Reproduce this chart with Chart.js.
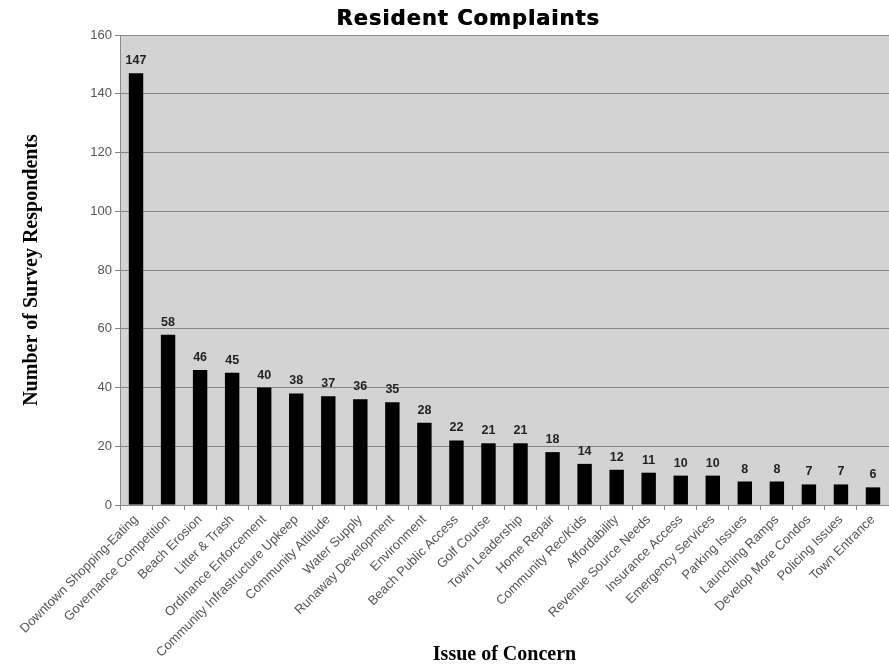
<!DOCTYPE html>
<html>
<head>
<meta charset="utf-8">
<title>Resident Complaints</title>
<script src="https://cdn.jsdelivr.net/npm/chart.js@4"></script>
<style>
  html, body { margin: 0; padding: 0; background: #ffffff; }
  #wrap { width: 889px; height: 669px; position: relative; }
</style>
</head>
<body>
<div id="wrap"><canvas id="complaints-chart"></canvas></div>
<script>
// Survey data
const issues = [
  'Downtown Shopping-Eating', 'Governance Competition', 'Beach Erosion', 'Litter & Trash',
  'Ordinance Enforcement', 'Community Infrastructure Upkeep', 'Community Attitude', 'Water Supply',
  'Runaway Development', 'Environment', 'Beach Public Access', 'Golf Course',
  'Town Leadership', 'Home Repair', 'Community Rec/Kids', 'Affordability',
  'Revenue Source Needs', 'Insurance Access', 'Emergency Services', 'Parking Issues',
  'Launching Ramps', 'Develop More Condos', 'Policing Issues', 'Town Entrance'
];
const respondents = [147, 58, 46, 45, 40, 38, 37, 36, 35, 28, 22, 21, 21, 18, 14, 12, 11, 10, 10, 8, 8, 7, 7, 6];
const yTicks = [0, 20, 40, 60, 80, 100, 120, 140, 160];

const chartTitle = 'Resident Complaints';

// gray plot area behind the bars
const plotBackground = {
  id: 'plotBackground',
  beforeDraw(chart) {
    const { ctx, chartArea } = chart;
    ctx.save();
    ctx.fillStyle = '#d3d3d3';
    ctx.fillRect(chartArea.left, chartArea.top, chartArea.right - chartArea.left, chartArea.bottom - chartArea.top);
    ctx.restore();
  }
};

// value above each bar
const barValues = {
  id: 'barValues',
  afterDatasetsDraw(chart) {
    const { ctx } = chart;
    const meta = chart.getDatasetMeta(0);
    ctx.save();
    ctx.font = 'bold 12.5px "Liberation Sans", Arial, sans-serif';
    ctx.fillStyle = '#222222';
    ctx.textAlign = 'center';
    ctx.textBaseline = 'alphabetic';
    meta.data.forEach((bar, i) => {
      ctx.fillText(String(respondents[i]), bar.x, bar.y - 9);
    });
    ctx.restore();
  }
};

// heavy title, drawn twice with a small shift to thicken it
const heavyTitle = {
  id: 'heavyTitle',
  afterDraw(chart) {
    const { ctx } = chart;
    ctx.save();
    ctx.font = 'bold 21px "DejaVu Sans", sans-serif';
    ctx.letterSpacing = '1px';
    ctx.fillStyle = '#000000';
    ctx.textAlign = 'center';
    ctx.textBaseline = 'alphabetic';
    ctx.fillText(chartTitle, 468, 25);
    ctx.fillText(chartTitle, 468.7, 25);
    ctx.restore();
  }
};

const ctx = document.getElementById('complaints-chart');
new Chart(ctx, {
  type: 'bar',
  data: {
    labels: issues,
    datasets: [{
      data: respondents,
      backgroundColor: '#000000',
      borderWidth: 0,
      barPercentage: 0.45,
      categoryPercentage: 1.0
    }]
  },
  options: {
    responsive: true,
    maintainAspectRatio: false,
    animation: false,
    layout: { padding: { top: 35, left: 0, right: 0, bottom: 0 } },
    plugins: {
      legend: { display: false },
      title: { display: false },
      tooltip: { enabled: false }
    },
    scales: {
      x: {
        afterFit(scale) { scale.height = 164; },
        grid: {
          offset: true,
          drawOnChartArea: false,
          drawTicks: true,
          tickLength: 5,
          color: '#8a8a8a'
        },
        border: { color: '#8a8a8a', width: 1 },
        ticks: {
          minRotation: 45,
          maxRotation: 45,
          autoSkip: false,
          padding: 2,
          color: '#555555',
          font: { family: '"Liberation Sans", Arial, sans-serif', size: 13 }
        },
        title: {
          display: true,
          text: 'Issue of Concern',
          color: '#000000',
          padding: { top: 0, bottom: 2 },
          font: { family: '"Liberation Serif", "Times New Roman", serif', size: 20, weight: 'bold' }
        }
      },
      y: {
        min: 0,
        max: 160,
        afterFit(scale) { scale.width = 120; },
        afterBuildTicks(scale) { scale.ticks = yTicks.map(v => ({ value: v })); },
        grid: {
          color: '#858585',
          tickLength: 5,
          drawTicks: true
        },
        border: { color: '#8a8a8a', width: 1 },
        ticks: {
          padding: 3,
          color: '#555555',
          font: { family: '"Liberation Sans", Arial, sans-serif', size: 13 }
        },
        title: {
          display: true,
          text: 'Number of Survey Respondents',
          color: '#000000',
          padding: { top: 20, bottom: 0 },
          font: { family: '"Liberation Serif", "Times New Roman", serif', size: 20, weight: 'bold' }
        }
      }
    }
  },
  plugins: [plotBackground, barValues, heavyTitle]
});
</script>
</body>
</html>
